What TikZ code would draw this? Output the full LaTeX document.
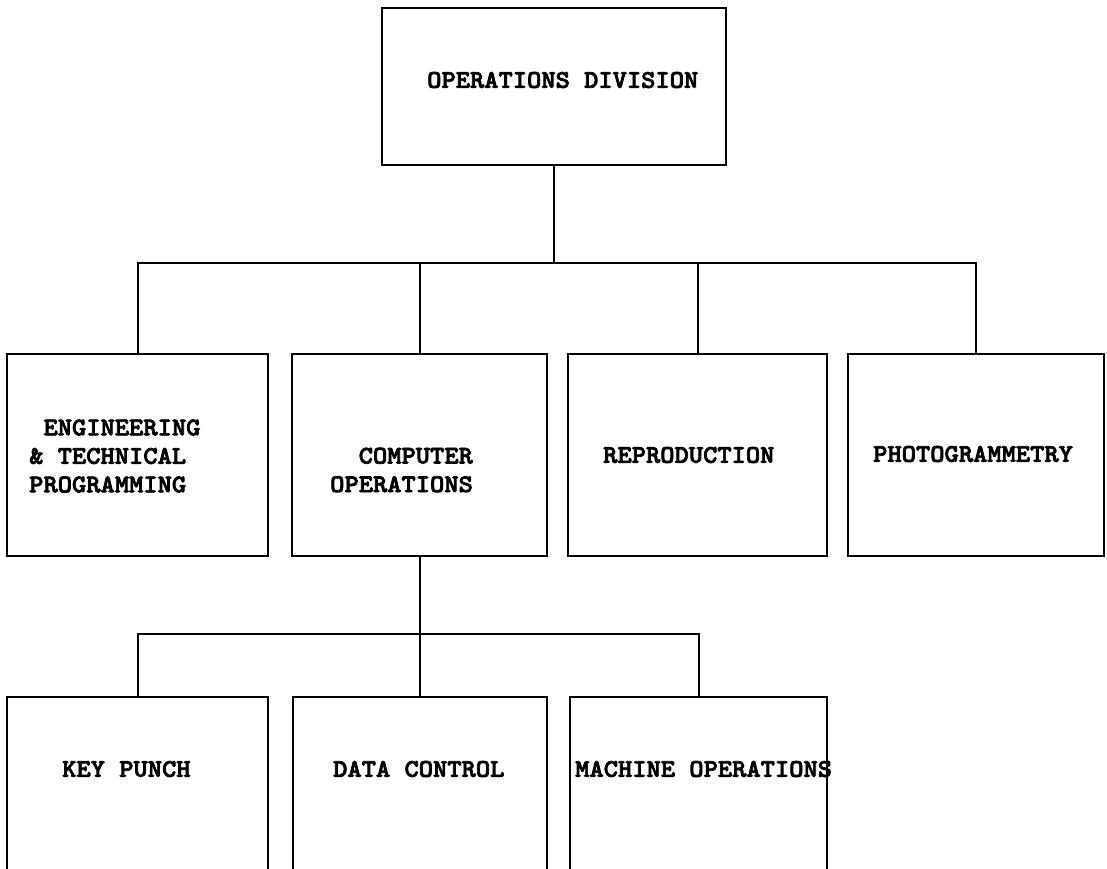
\documentclass[tikz,border=0pt]{standalone}
\usepackage{fontspec}
\newfontfamily\tw{lmmonolt10-bold.otf}[FakeStretch=1.07,FakeBold=2.8]
\begin{document}
\begin{tikzpicture}[x=1pt,y=-1pt,
  box/.style={draw=black, line width=2.2pt, fill=none, inner sep=0pt, outer sep=0pt},
  lbl/.style={inner sep=0pt, anchor=west, align=left,
    font={\tw\fontsize{25.4}{28.5}\selectfont}},
  wire/.style={draw=black, line width=2pt}]
  \useasboundingbox (0,0) rectangle (1107,869);
  \clip (0,0) rectangle (1107,869);

  % top level
  \node[box, minimum width=344pt, minimum height=157pt] (opdiv) at (554,86.5) {};
  \node[lbl] (opdivt) at (427,80) {OPERATIONS DIVISION};

  % second level
  \node[box, minimum width=261pt, minimum height=202pt] (eng)   at (137.5,455) {};
  \node[box, minimum width=255pt, minimum height=202pt] (comp)  at (419.5,455) {};
  \node[box, minimum width=259pt, minimum height=202pt] (repro) at (697.5,455) {};
  \node[box, minimum width=256pt, minimum height=202pt] (photo) at (976,455) {};
  \node[lbl] (engt)   at (29,456)  {\phantom{X}ENGINEERING\\\& TECHNICAL\\PROGRAMMING};
  \node[lbl] (compt)  at (330,470) {\phantom{XX}COMPUTER\\OPERATIONS};
  \node[lbl] (reprot) at (603,455) {REPRODUCTION};
  \node[lbl] (photot) at (873,454) {PHOTOGRAMMETRY};

  % third level (boxes run past the lower edge)
  \node[box, minimum width=261pt, minimum height=190pt] (kp) at (137.5,792) {};
  \node[box, minimum width=254pt, minimum height=190pt] (dc) at (420,792) {};
  \node[box, minimum width=257pt, minimum height=190pt] (mo) at (698.5,792) {};
  \node[lbl] (kpt) at (62,769)  {KEY PUNCH};
  \node[lbl] (dct) at (333,769) {DATA CONTROL};
  \node[lbl] (mot) at (575,769) {MACHINE OPERATIONS};

  % connectors
  \coordinate (j1) at (554,263);
  \coordinate (j2) at (419.5,634);
  \draw[wire] (opdiv.south) -- (j1);
  \draw[wire] (j1) -| (eng.north);
  \draw[wire] (j1) -| (comp.north);
  \draw[wire] (j1) -| (repro.north);
  \draw[wire] (j1) -| (photo.north);
  \draw[wire] (comp.south) -- (j2);
  \draw[wire] (j2) -| (kp.north);
  \draw[wire] (j2) -| (dc.north);
  \draw[wire] (j2) -| (mo.north);
\end{tikzpicture}
\end{document}
